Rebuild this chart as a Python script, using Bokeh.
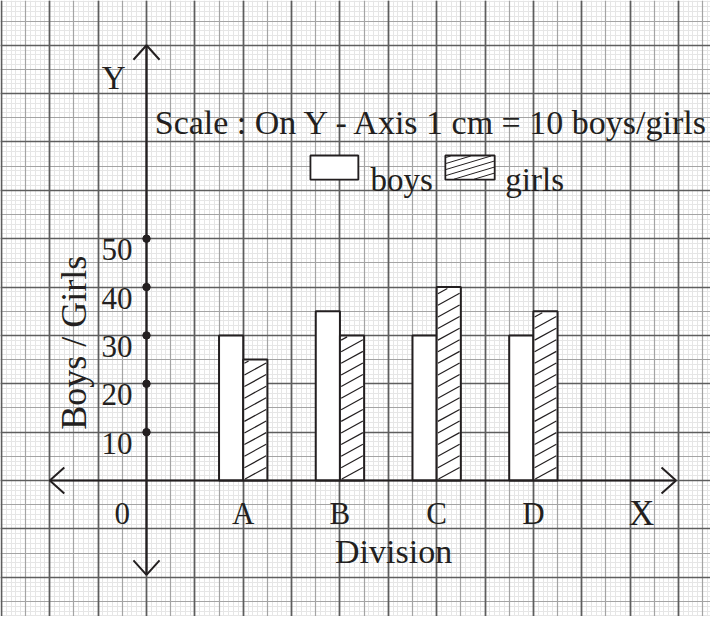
import numpy as np
from bokeh.plotting import figure
from bokeh.models import Range1d, Grid, FixedTicker
from bokeh.core.properties import value
from bokeh.embed import file_html
from bokeh.resources import INLINE

# ---- data ----
divisions = ["A", "B", "C", "D"]
boys = [30, 35, 30, 30]
girls = [25, 30, 40, 35]
y_ticks = [10, 20, 30, 40, 50]
title_text = "Scale : On Y - Axis 1 cm = 10 boys/girls"
legend_labels = ["boys", "girls"]
x_label = "Division"
y_label = "Boys / Girls"

# ---- layout (units: mm on graph paper; 1 mm = 1 boy/girl on Y) ----
PX_PER_MM = 4.836
W, H = 710, 616
ox_px, oy_px = 154 - 8, 488 - 8  # origin in canvas px
x0 = -ox_px / PX_PER_MM
x1 = (W - ox_px) / PX_PER_MM
y1 = oy_px / PX_PER_MM
y0 = -(H - oy_px) / PX_PER_MM

INK = "#231f20"
FONT = value("Liberation Serif")

p = figure(width=W, height=H, x_range=Range1d(x0, x1), y_range=Range1d(y0, y1),
           x_axis_type=None, y_axis_type=None, toolbar_location=None,
           output_backend="svg", min_border=0, outline_line_color=None,
           background_fill_color="white", border_fill_color="white")
p.grid.visible = False

# graph paper grid
def add_grid(step, color, width):
    xs = [v for v in range(int(np.floor(x0)), int(np.ceil(x1)) + 1) if v % step == 0]
    ys = [v for v in range(int(np.floor(y0)), int(np.ceil(y1)) + 1) if v % step == 0]
    p.add_layout(Grid(dimension=0, ticker=FixedTicker(ticks=xs),
                      grid_line_color=color, grid_line_width=width))
    p.add_layout(Grid(dimension=1, ticker=FixedTicker(ticks=ys),
                      grid_line_color=color, grid_line_width=width))

add_grid(1, "#e6e6e6", 1)
add_grid(5, "#a4a4a4", 1.2)
add_grid(10, "#5e5e5e", 1.7)

# category positions (2 cm apart)
cat_x = [20 * (i + 1) for i in range(len(divisions))]
bw = 5  # bar width in mm

# bars
p.vbar(x=[c - bw / 2 for c in cat_x], top=boys, bottom=0, width=bw,
       fill_color="white", line_color=INK, line_width=2)
p.vbar(x=[c + bw / 2 for c in cat_x], top=girls, bottom=0, width=bw,
       fill_color="white", line_color=INK, line_width=2)

# hatch lines clipped to a rectangle
def hatch(xa, xb, ya, yb, slope, spacing):
    xs, ys = [], []
    k = ya - slope * (xb - xa)
    while k < yb:
        pts = []
        for xx in (xa, xb):
            yy = k + slope * (xx - xa)
            if ya <= yy <= yb:
                pts.append((xx, yy))
        for yy in (ya, yb):
            xx = xa + (yy - k) / slope
            if xa < xx < xb:
                pts.append((xx, yy))
        if len(pts) >= 2:
            pts = sorted(pts)
            xs.append([pts[0][0], pts[-1][0]])
            ys.append([pts[0][1], pts[-1][1]])
        k += spacing
    return xs, ys

hx, hy = [], []
for c, g in zip(cat_x, girls):
    a, b = hatch(c + 0.25, c + bw - 0.25, 0.3, g - 0.3, 0.55, 2.4)
    hx += a
    hy += b
p.multi_line(hx, hy, line_color=INK, line_width=1.2)

# axes
p.segment(x0=[-20, 0], y0=[0, -19.5], x1=[109.5, 0], y1=[0, 90],
          line_color=INK, line_width=2.2)
ah_back, ah_half = 3.0, 2.7
p.multi_line(
    xs=[[109.5 - ah_back, 109.5, 109.5 - ah_back],
        [-20 + ah_back, -20, -20 + ah_back],
        [-ah_half, 0, ah_half],
        [-ah_half, 0, ah_half]],
    ys=[[ah_half, 0, -ah_half],
        [ah_half, 0, -ah_half],
        [90 - ah_back, 90, 90 - ah_back],
        [-19.5 + ah_back, -19.5, -19.5 + ah_back]],
    line_color=INK, line_width=2)

# y tick dots and labels
p.scatter(x=[0] * len(y_ticks), y=y_ticks, size=7.5, color=INK)
p.text(x=[-2.9] * len(y_ticks), y=[v - 2.3 for v in y_ticks],
       text=[str(v) for v in y_ticks], text_align="right",
       text_baseline="alphabetic", text_font=FONT, text_font_size="31px",
       text_color=INK)

# category labels + origin
p.text(x=cat_x, y=[-6.8] * len(cat_x), text=divisions, text_align="center",
       text_baseline="alphabetic", text_font=FONT, text_font_size="31px",
       text_color=INK)
p.text(x=[-5.0], y=[-6.8], text=["0"], text_align="center",
       text_baseline="alphabetic", text_font=FONT, text_font_size="31px",
       text_color=INK)

# axis letters
p.text(x=[102.4], y=[-6.8], text=["X"], text_align="center",
       text_baseline="alphabetic", text_font=FONT, text_font_size="35px",
       text_color=INK)
p.text(x=[-6.8], y=[83.3], text=["Y"], text_align="center",
       text_baseline="alphabetic", text_font=FONT, text_font_size="33px",
       text_color=INK)

# axis titles
p.text(x=[51.1], y=[-14.7], text=[x_label], text_align="center",
       text_baseline="alphabetic", text_font=FONT, text_font_size="34px",
       text_color=INK)
p.text(x=[-14.9], y=[28.5], text=[y_label], text_align="center",
       text_baseline="alphabetic", text_font=FONT, text_font_size="36px",
       text_color=INK, angle=np.pi / 2)

# scale note
p.text(x=[1.7], y=[74.0], text=[title_text], text_align="left",
       text_baseline="alphabetic", text_font=FONT, text_font_size="34px",
       text_color=INK)

# legend
p.quad(left=[33.9, 61.8], right=[43.8, 72.0], bottom=[62.2, 62.2], top=[67.2, 67.2],
       fill_color="white", line_color=INK, line_width=1.8)
lx, ly = hatch(61.9, 71.9, 62.3, 67.1, 0.3, 1.25)
p.multi_line(lx, ly, line_color=INK, line_width=1)
p.text(x=[46.3, 74.2], y=[62.2, 62.2], text=legend_labels, text_align="left",
       text_baseline="alphabetic", text_font=FONT, text_font_size="33px",
       text_color=INK)

open("out.html", "w").write(file_html(p, INLINE))
